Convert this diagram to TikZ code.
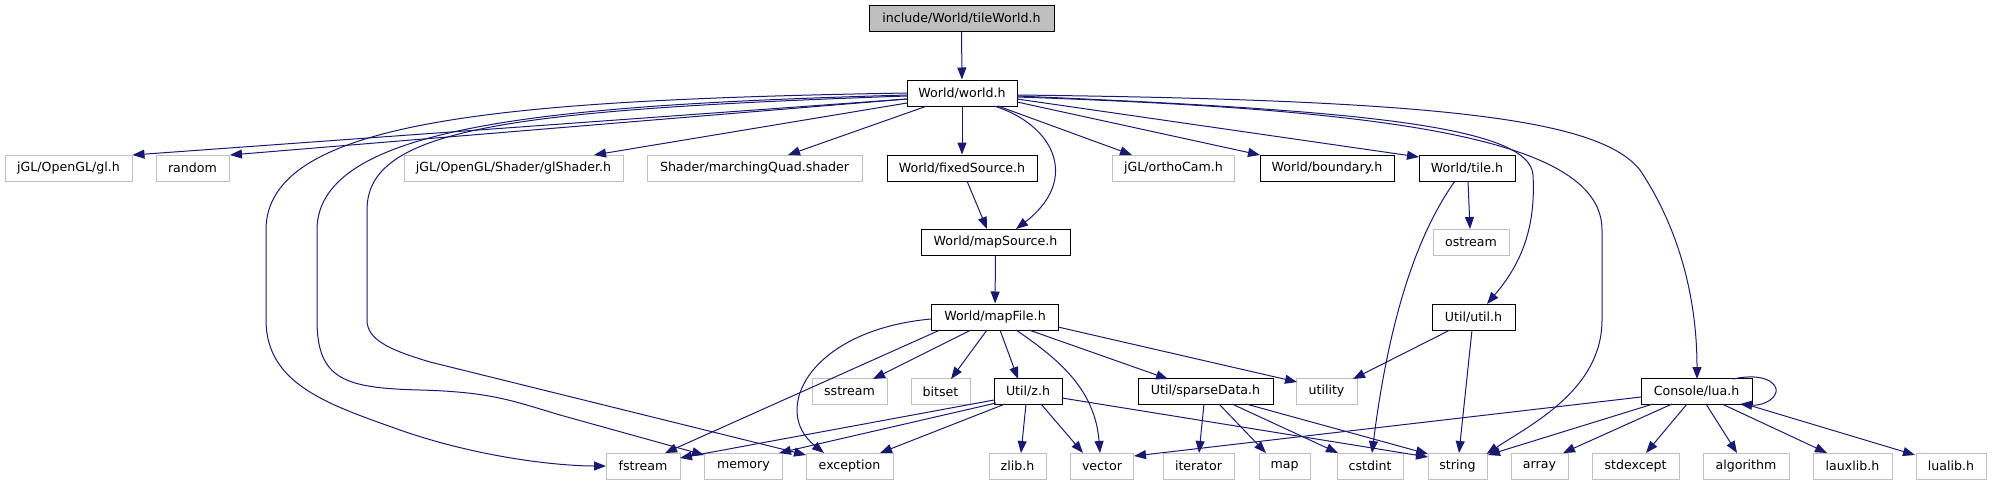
\documentclass[tikz,border=0pt]{standalone}
\usepackage{fontspec}
\setmainfont{DejaVu Sans}
\usetikzlibrary{arrows.meta,calc}
\definecolor{edgec}{HTML}{191970}
\definecolor{grayb}{HTML}{BFBFBF}
\begin{document}
\begin{tikzpicture}[x=1pt,y=-1pt,
  box/.style={rectangle, inner sep=0pt, minimum height=26pt, font=\fontsize{12.6}{15}\selectfont, line width=1pt},
  doc/.style={box, draw=black},
  ext/.style={box, draw=grayb},
  rootbox/.style={box, draw=black, fill=grayb},
  edge/.style={draw=edgec, line width=1pt, -{Triangle[length=12pt,width=9pt]}}
]
\useasboundingbox (0,0) rectangle (1992,485);
% nodes
\node[rootbox, minimum width=185pt] (root) at (961.5,18) {include/World/tileWorld.h};
\node[doc, minimum width=110pt] (world) at (962,93) {World/world.h};
\node[ext, minimum width=127pt] (gl) at (68.5,168) {jGL/OpenGL/gl.h};
\node[ext, minimum width=73pt] (random) at (192.5,168) {random};
\node[ext, minimum width=219pt] (glsh) at (513.5,168) {jGL/OpenGL/Shader/glShader.h};
\node[ext, minimum width=215pt] (mq) at (754.5,168) {Shader/marchingQuad.shader};
\node[doc, minimum width=150pt] (fixed) at (962,168) {World/fixedSource.h};
\node[ext, minimum width=122pt] (ortho) at (1173.5,168) {jGL/orthoCam.h};
\node[doc, minimum width=134pt] (bound) at (1327,168) {World/boundary.h};
\node[doc, minimum width=96pt] (tile) at (1467,168) {World/tile.h};
\node[doc, minimum width=149pt] (mapsrc) at (995.5,242) {World/mapSource.h};
\node[ext, minimum width=76pt] (ostream) at (1471,242) {ostream};
\node[doc, minimum width=127pt] (mapfile) at (995,317) {World/mapFile.h};
\node[doc, minimum width=83pt] (util) at (1473.5,317) {Util/util.h};
\node[ext, minimum width=75pt] (sstream) at (849.5,391.5) {sstream};
\node[ext, minimum width=59pt] (bitset) at (940.5,391.5) {bitset};
\node[doc, minimum width=68pt] (zh) at (1028,391.5) {Util/z.h};
\node[doc, minimum width=135pt] (sparse) at (1205.5,391.5) {Util/sparseData.h};
\node[ext, minimum width=61pt] (utility) at (1326.5,391.5) {utility};
\node[doc, minimum width=111pt] (lua) at (1696.5,391.5) {Console/lua.h};
\node[ext, minimum width=74pt] (fstream) at (643,466) {fstream};
\node[ext, minimum width=78pt] (memory) at (743.5,466) {memory};
\node[ext, minimum width=87pt] (exception) at (849.5,466) {exception};
\node[ext, minimum width=57pt] (zlib) at (1017.5,466) {zlib.h};
\node[ext, minimum width=63pt] (vector) at (1102,466) {vector};
\node[ext, minimum width=71pt] (iterator) at (1198.5,466) {iterator};
\node[ext, minimum width=51pt] (map) at (1284.5,466) {map};
\node[ext, minimum width=66pt] (cstdint) at (1370,466) {cstdint};
\node[ext, minimum width=59pt] (string) at (1457.5,466) {string};
\node[ext, minimum width=57pt] (array) at (1539.5,466) {array};
\node[ext, minimum width=87pt] (stdexcept) at (1635.5,466) {stdexcept};
\node[ext, minimum width=86pt] (algorithm) at (1746,466) {algorithm};
\node[ext, minimum width=79pt] (lauxlib) at (1852.5,466) {lauxlib.h};
\node[ext, minimum width=70pt] (lualib) at (1951,466) {lualib.h};
% edges
\draw[edge] (root) -- (world);
\draw[edge] ($(world)+(-55,6)$) -- ($(gl)+(64,-13)$);
\draw[edge] ($(world)+(-55,6)$) -- ($(random)+(37.5,-13)$);
\draw[edge] ($(world)+(-55,10)$) -- ($(glsh)+(80.5,-13)$);
\draw[edge] ($(world)+(-35,13)$) -- ($(mq)+(33.5,-13)$);
\draw[edge] (world) -- (fixed);
\draw[edge] ($(world)+(32,13)$) .. controls (1055,125) and (1080,180) .. ($(mapsrc)+(20.5,-13)$);
\draw[edge] ($(fixed)+(5,13)$) -- ($(mapsrc)+(-8.5,-13)$);
\draw[edge] (mapsrc) -- (mapfile);
\draw[edge] ($(world)+(36,13)$) -- ($(ortho)+(-41.5,-13)$);
\draw[edge] ($(world)+(55,9)$) -- ($(bound)+(-67,-13)$);
\draw[edge] ($(world)+(55,6)$) -- ($(tile)+(-48,-11)$);
\draw[edge] ($(world)+(55,3)$) .. controls (1350,110) and (1530,125) .. (1533,175)
   .. controls (1536,230) and (1520,265) .. ($(util)+(13.5,-13)$);
\draw[edge] ($(world)+(55,4)$) .. controls (1400,110) and (1602,140) .. (1602,230) -- (1602,320)
   .. controls (1602,390) and (1530,425) .. ($(string)+(29,-12)$);
\draw[edge] ($(world)+(55,2)$) .. controls (1450,100) and (1600,120) .. (1640,170)
   .. controls (1680,230) and (1697,300) .. ($(lua)+(0.5,-12.5)$);
\draw[edge] ($(world)+(-55,0)$) .. controls (500,100) and (266,120) .. (266,230) -- (266,320)
   .. controls (266,385) and (330,405) .. (400,430) .. controls (480,458) and (560,466) .. ($(fstream)+(-37,0)$);
\draw[edge] ($(world)+(-55,2)$) .. controls (550,105) and (317,125) .. (317,230) -- (317,320)
   .. controls (317,380) and (345,388) .. (420,390) .. controls (490,392) and (510,400) .. (560,415)
   -- ($(memory)+(-39.5,-11)$);
\draw[edge] ($(world)+(-55,3)$) .. controls (500,110) and (367,130) .. (367,210) -- (367,320)
   .. controls (367,340) and (390,350) .. (430,362) -- ($(exception)+(-43.5,-11)$);
% mapFile
\draw[edge] ($(mapfile)+(-24,13)$) -- ($(sstream)+(23.5,-12.5)$);
\draw[edge] ($(mapfile)+(-8,13)$) -- ($(bitset)+(10.5,-12.5)$);
\draw[edge] ($(mapfile)+(5,13)$) -- ($(zh)+(-10,-12.5)$);
\draw[edge] ($(mapfile)+(21,13)$) .. controls (1060,360) and (1095,390) .. ($(vector)+(-2,-13)$);
\draw[edge] ($(mapfile)+(34,13)$) -- ($(sparse)+(-37.5,-12.5)$);
\draw[edge] ($(mapfile)+(63,10)$) -- ($(utility)+(-29.5,-9.5)$);
\draw[edge] ($(mapfile)+(-55,13)$) -- ($(fstream)+(22,-13)$);
\draw[edge] ($(mapfile)+(-64,2)$) .. controls (810,330) and (770,410) .. ($(exception)+(-25.5,-13)$);
% z.h
\draw[edge] ($(zh)+(-34,8.5)$) -- ($(fstream)+(37,-8)$);
\draw[edge] ($(zh)+(-32,11.5)$) -- ($(memory)+(35.5,-13)$);
\draw[edge] ($(zh)+(-23,12.5)$) -- ($(exception)+(30.5,-13)$);
\draw[edge] ($(zh)+(-2,12.5)$) -- ($(zlib)+(3.5,-13)$);
\draw[edge] ($(zh)+(13,12.5)$) -- ($(vector)+(-19,-13)$);
\draw[edge] ($(zh)+(34,6.5)$) -- ($(string)+(-29.5,-9)$);
% sparseData
\draw[edge] ($(sparse)+(-1.5,12.5)$) -- ($(iterator)+(0.5,-13)$);
\draw[edge] ($(sparse)+(13.5,12.5)$) -- ($(map)+(-18.5,-13)$);
\draw[edge] ($(sparse)+(26.5,12.5)$) -- ($(cstdint)+(-32,-13)$);
\draw[edge] ($(sparse)+(40.5,12.5)$) -- ($(string)+(-29.5,-12)$);
% tile.h
\draw[edge] ($(tile)+(1,13)$) -- ($(ostream)+(-1,-13)$);
\draw[edge] ($(tile)+(-12,13)$) .. controls (1420,230) and (1390,310) .. ($(cstdint)+(2,-13)$);
% util.h
\draw[edge] ($(util)+(-23.5,13)$) -- ($(utility)+(26.5,-12.5)$);
\draw[edge] ($(util)+(-1.5,13)$) -- ($(string)+(1.5,-13)$);
% lua.h
\draw[edge] ($(lua)+(-55.5,5.5)$) -- ($(vector)+(32,-10)$);
\draw[edge] ($(lua)+(-43.5,12.5)$) -- ($(string)+(30.5,-11)$);
\draw[edge] ($(lua)+(-24.5,12.5)$) -- ($(array)+(23.5,-13)$);
\draw[edge] ($(lua)+(-9.5,12.5)$) -- ($(stdexcept)+(10.5,-13)$);
\draw[edge] ($(lua)+(9.5,12.5)$) -- ($(algorithm)+(-9,-13)$);
\draw[edge] ($(lua)+(25.5,12.5)$) -- ($(lauxlib)+(-25.5,-13)$);
\draw[edge] ($(lua)+(48.5,12.5)$) -- ($(lualib)+(-36,-11)$);
\draw[edge] ($(lua)+(36.5,-12.5)$) .. controls (1765,372) and (1778,384) .. (1776,392)
   .. controls (1774,401) and (1760,406) .. ($(lua)+(43.5,12.5)$);
\end{tikzpicture}
\end{document}
